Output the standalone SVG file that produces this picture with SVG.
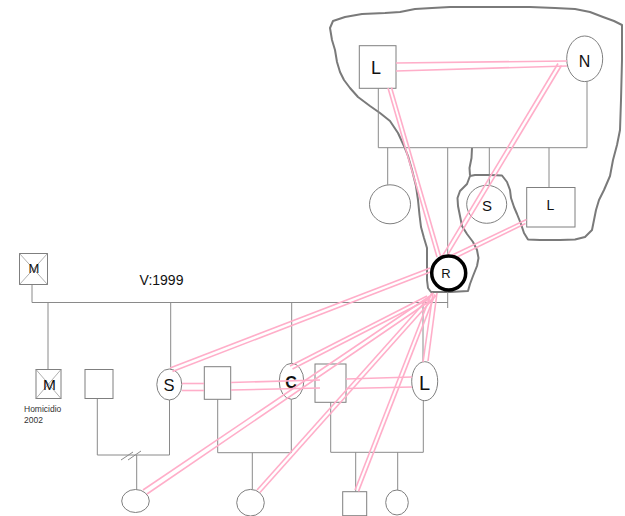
<svg xmlns="http://www.w3.org/2000/svg" width="625" height="516" viewBox="0 0 625 516">
<style>
.bg{fill:#ffffff}
.ln{stroke:#8a8a8a;stroke-width:1;fill:none}
.nd{stroke:#7f7f7f;stroke-width:1;fill:#ffffff}
.x{stroke:#9a9a9a;stroke-width:0.8}
.rel{stroke:#ffaec9;stroke-width:1.6;fill:none}
.cloud{stroke:#7a7a7a;stroke-width:2;fill:none;stroke-linejoin:round}
.t{font-family:"Liberation Sans",Arial,sans-serif;fill:#111;text-anchor:middle}
.s{font-family:"Liberation Sans",Arial,sans-serif;fill:#333}
</style>
<rect class="bg" x="0" y="0" width="625" height="516"/>

<g id="cloud">
<path class="cloud" d="M330,28 L333,21 L345,17 L362,14 L385,13 L400,12 L415,9 L432,8 L450,7 L470,7 L500,7 L530,7 L555,8 L575,9 L590,12 L603,17 L614,21 L622,25 L622,60 L621,100 L620,130 L617,145 L613,160 L610,176 L604,190 L599,200 L596,210 L594,220 L592,230 L585,237 L575,239.5 L560,240 L540,240 L528,239.5 L524,233 L521,224 L517,214 L514,207 L511,198 L510,190 L507,182 L502,175.5 L490,175 L475,175 L470,176 L467,184 L460,191 L457.5,198 L458,206 L460,216 L462,226 L467,234 L473,242 L477,250 L478.5,258 L477,266 L473,276 L470,284 L468,291 L450,292 L431,292 L428,288 L427,280 L427,265 L427,248 L424,238 L421,227 L419.5,215 L418,200 L416,186 L412,170 L408,156 L404,146 L398,133 L390,121 L380,113 L370,106 L358,97 L350,88 L344,80 L340,72 L337,62 L335,50 L332,40 Z"/>
<path class="cloud" d="M472,148 L471.5,158 L469.5,168 L470,175.5"/>
</g>

<g id="connectors">
<line class="ln" x1="32" y1="284" x2="32" y2="302.5"/>
<line class="ln" x1="32" y1="302.5" x2="448" y2="302.5"/>
<line class="ln" x1="48" y1="302.5" x2="48" y2="369.5"/>
<line class="ln" x1="170.7" y1="302.5" x2="170.7" y2="369"/>
<line class="ln" x1="291.7" y1="302.5" x2="291.7" y2="363.5"/>
<line class="ln" x1="423" y1="302.5" x2="423" y2="362"/>
<polyline class="ln" points="97.3,398.5 97.3,455 169.5,455 169.5,400"/>
<line class="ln" x1="136.7" y1="455" x2="136.7" y2="489.5"/>
<line class="ln" x1="121" y1="460" x2="133" y2="452"/>
<line class="ln" x1="128" y1="460" x2="141" y2="451"/>
<polyline class="ln" points="217.7,399.3 217.7,452.7 291.3,452.7 291.3,399.3"/>
<line class="ln" x1="252.3" y1="452.7" x2="252.3" y2="489.4"/>
<polyline class="ln" points="330.7,402.3 330.7,452.3 423.3,452.3 423.3,400.7"/>
<line class="ln" x1="355.7" y1="452.3" x2="355.7" y2="491.7"/>
<line class="ln" x1="397.7" y1="452.3" x2="397.7" y2="490"/>
<polyline class="ln" points="378.3,88.3 378.3,147.7 587,147.7 587,81.6"/>
<line class="ln" x1="387.7" y1="147.7" x2="387.7" y2="184.8"/>
<line class="ln" x1="447.7" y1="147.7" x2="447.7" y2="308"/>
<line class="ln" x1="489.3" y1="147.7" x2="489.3" y2="185.3"/>
<line class="ln" x1="549" y1="147.7" x2="549" y2="187.5"/>
</g>

<g id="node-M1">
<rect class="nd" x="19.5" y="253.5" width="28" height="31"/>
<line class="x" x1="19.5" y1="253.5" x2="47.5" y2="284.5"/>
<line class="x" x1="47.5" y1="253.5" x2="19.5" y2="284.5"/>
<text class="t" x="34" y="272.5" font-size="13">M</text>
</g>
<g id="node-M2">
<rect class="nd" x="36" y="369.5" width="25" height="29"/>
<line class="x" x1="36" y1="369.5" x2="61" y2="398.5"/>
<line class="x" x1="61" y1="369.5" x2="36" y2="398.5"/>
<text class="t" x="49.5" y="390" font-size="15.5">M</text>
<text class="s" x="24" y="412" font-size="8.5">Homicidio</text>
<text class="s" x="24" y="423" font-size="8.5">2002</text>
</g>
<g id="node-sq1"><rect class="nd" x="85" y="369.5" width="28" height="29"/></g>
<g id="node-S2">
<ellipse class="nd" cx="169.3" cy="384.5" rx="12.5" ry="15.5"/>
<text class="t" x="169" y="390.5" font-size="16.5">S</text>
</g>
<g id="node-sq2"><rect class="nd" x="204.3" y="366.7" width="26.4" height="32.6"/></g>
<g id="node-C">
<ellipse class="nd" cx="291.5" cy="381.3" rx="12.3" ry="18"/>
<text class="t" x="291" y="388" font-size="16" font-weight="bold">C</text>
</g>
<g id="node-sq3"><rect class="nd" x="315" y="364" width="31" height="38.3"/></g>
<g id="node-L3">
<ellipse class="nd" cx="424.7" cy="381.2" rx="13" ry="19.5"/>
<text class="t" x="424.5" y="390" font-size="20">L</text>
</g>
<g id="node-child1"><ellipse class="nd" cx="135.5" cy="501" rx="13.8" ry="11.5"/></g>
<g id="node-child2"><ellipse class="nd" cx="250.5" cy="502.7" rx="13.8" ry="13.3"/></g>
<g id="node-child3"><rect class="nd" x="342.7" y="491.7" width="24" height="24"/></g>
<g id="node-child4"><ellipse class="nd" cx="397" cy="502.5" rx="11.3" ry="12.5"/></g>

<g id="node-L1">
<rect class="nd" x="359.3" y="45.7" width="36.7" height="42.6"/>
<text class="t" x="376" y="73.5" font-size="18">L</text>
</g>
<g id="node-N">
<ellipse class="nd" cx="584.7" cy="58.8" rx="18" ry="22.8"/>
<text class="t" x="584.5" y="66.5" font-size="16">N</text>
</g>
<g id="node-F"><ellipse class="nd" cx="390" cy="204.3" rx="20.5" ry="19.5"/></g>
<g id="node-S1">
<ellipse class="nd" cx="486.7" cy="204.3" rx="20" ry="19"/>
<text class="t" x="487" y="210.5" font-size="15">S</text>
</g>
<g id="node-L2">
<rect class="nd" x="526.7" y="187.5" width="48.3" height="39.5"/>
<text class="t" x="550.5" y="210" font-size="14">L</text>
</g>

<text class="t" x="161.5" y="285" font-size="14">V:1999</text>

<g id="relations">
<line class="rel" x1="396" y1="63" x2="567" y2="61"/>
<line class="rel" x1="396" y1="71" x2="567" y2="66"/>
<line class="rel" x1="388" y1="88" x2="437" y2="257"/>
<line class="rel" x1="391.5" y1="87.5" x2="440.5" y2="256"/>
<line class="rel" x1="558" y1="63.5" x2="441.5" y2="257.5"/>
<line class="rel" x1="561.5" y1="65.5" x2="445" y2="259.5"/>
<line class="rel" x1="526.5" y1="219.5" x2="445" y2="258.5"/>
<line class="rel" x1="525.5" y1="223.5" x2="447" y2="262"/>
<line class="rel" x1="430" y1="268" x2="170" y2="368"/>
<line class="rel" x1="431.5" y1="271.5" x2="172.5" y2="371.5"/>
<line class="rel" x1="427" y1="296" x2="290" y2="366"/>
<line class="rel" x1="429" y1="299" x2="292.5" y2="369"/>
<line class="rel" x1="143" y1="490" x2="430" y2="296"/>
<line class="rel" x1="147" y1="494" x2="432" y2="299.5"/>
<line class="rel" x1="257" y1="490" x2="433" y2="293"/>
<line class="rel" x1="260" y1="492.5" x2="436" y2="295.5"/>
<line class="rel" x1="355" y1="490" x2="431.6" y2="293"/>
<line class="rel" x1="358.5" y1="491.4" x2="435" y2="294.4"/>
<line class="rel" x1="423" y1="362" x2="433" y2="293"/>
<line class="rel" x1="428" y1="361" x2="437" y2="293"/>
<line class="rel" x1="182" y1="383.5" x2="204" y2="383.5"/>
<line class="rel" x1="182" y1="390.5" x2="204" y2="390.5"/>
<line class="rel" x1="231" y1="382.5" x2="320" y2="380"/>
<line class="rel" x1="231" y1="390" x2="320" y2="388"/>
<line class="rel" x1="346" y1="379" x2="412" y2="377"/>
<line class="rel" x1="346" y1="388.5" x2="412" y2="387"/>
</g>

<g id="node-R">
<circle cx="448.7" cy="273" r="17" fill="#ffffff" stroke="#000000" stroke-width="3.5"/>
<text class="t" x="446" y="277.5" font-size="13">R</text>
</g>
</svg>
